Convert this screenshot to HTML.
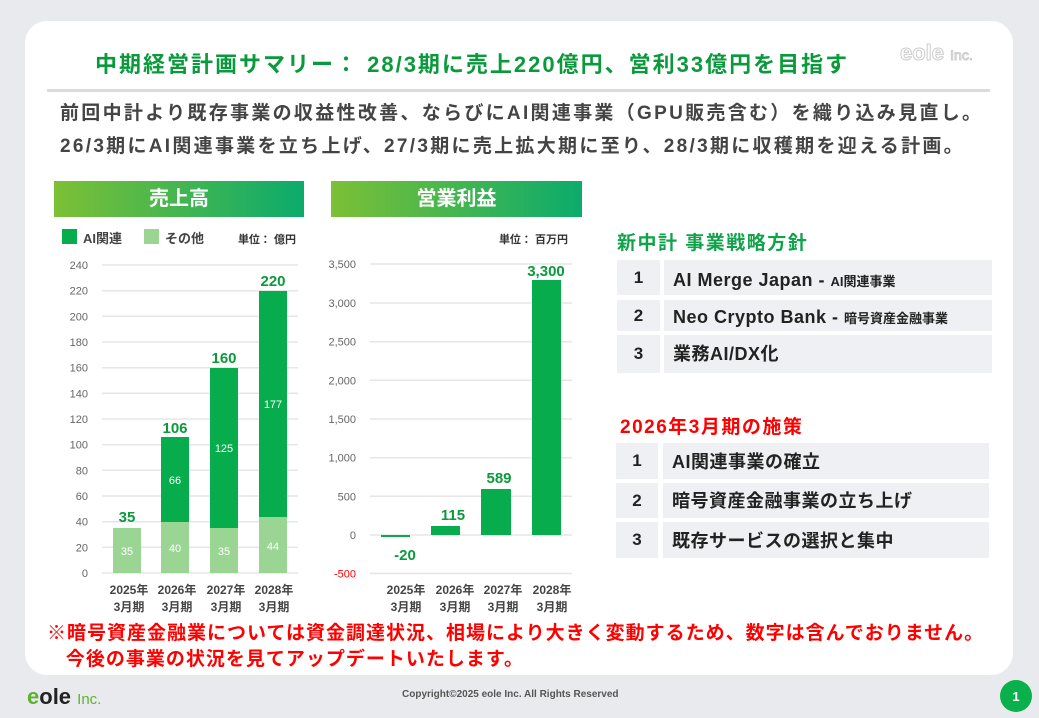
<!DOCTYPE html>
<html><head><meta charset="utf-8"><style>
*{margin:0;padding:0;box-sizing:border-box}
body{width:1039px;height:718px;overflow:hidden;background:#e8eaed;font-family:"Liberation Sans","Noto Sans CJK JP",sans-serif;position:relative}
.a{position:absolute;white-space:nowrap}
.card{position:absolute;left:25px;top:21px;width:988px;height:654px;background:#fff;border-radius:22px}
.ban{position:absolute;height:36px;background:linear-gradient(90deg,#7cc035,#0bab6c);color:#fff;font-weight:bold;font-size:20px;text-align:center;line-height:36px}
.box{position:absolute;background:#eff0f4;font-weight:bold;color:#222}
.num{text-align:center;font-size:17px}
.txt{padding-left:9px;font-size:18px;letter-spacing:0.5px}
</style></head><body>
<div class="card"></div>
<div class="a" style="left:95px;top:47px;font-size:22px;letter-spacing:2px;font-weight:bold;color:#0a9a3c">中期経営計画サマリー： 28/3期に売上220億円、営利33億円を目指す</div>
<div class="a" style="left:900px;top:40px;font-size:22px;color:#fff;-webkit-text-stroke:1px #ccc;font-weight:bold">eole <span style="font-size:14px;font-weight:normal">Inc.</span></div>
<div class="a" style="left:47px;top:89px;width:943px;height:3px;background:#d8dbe0"></div>
<div class="a" style="left:60px;top:97px;font-size:19px;letter-spacing:2.3px;font-weight:bold;color:#444;line-height:33px">前回中計より既存事業の収益性改善、ならびにAI関連事業（GPU販売含む）を織り込み見直し。<br>26/3期にAI関連事業を立ち上げ、27/3期に売上拡大期に至り、28/3期に収穫期を迎える計画。</div>

<div class="ban" style="left:54px;top:181px;width:250px">売上高</div>
<div class="ban" style="left:331px;top:181px;width:251px">営業利益</div>

<svg class="a" style="left:0;top:0" width="1039" height="718" font-family="Liberation Sans, Noto Sans CJK JP, sans-serif">
<rect x="62" y="229" width="15" height="15" fill="#07ad4c"/><text x="83" y="243" font-size="13" font-weight="bold" fill="#444">AI関連</text>
<rect x="144" y="229" width="15" height="15" fill="#9bd594"/><text x="165" y="243" font-size="13" font-weight="bold" fill="#444">その他</text>
<text x="296" y="243" font-size="11" font-weight="bold" fill="#333" text-anchor="end">単位： 億円</text>
<g stroke="#e6e6e6" stroke-width="1.5">
<line x1="102" x2="298" y1="265" y2="265"/><line x1="102" x2="298" y1="290.7" y2="290.7"/><line x1="102" x2="298" y1="316.3" y2="316.3"/><line x1="102" x2="298" y1="342" y2="342"/><line x1="102" x2="298" y1="367.7" y2="367.7"/><line x1="102" x2="298" y1="393.3" y2="393.3"/><line x1="102" x2="298" y1="419" y2="419"/><line x1="102" x2="298" y1="444.7" y2="444.7"/><line x1="102" x2="298" y1="470.3" y2="470.3"/><line x1="102" x2="298" y1="496" y2="496"/><line x1="102" x2="298" y1="521.7" y2="521.7"/><line x1="102" x2="298" y1="547.3" y2="547.3"/><line x1="102" x2="298" y1="573" y2="573"/>
</g>
<g font-size="11" fill="#666" text-anchor="end">
<text x="88" y="269">240</text><text x="88" y="294.7">220</text><text x="88" y="320.3">200</text><text x="88" y="346">180</text><text x="88" y="371.7">160</text><text x="88" y="397.3">140</text><text x="88" y="423">120</text><text x="88" y="448.7">100</text><text x="88" y="474.3">80</text><text x="88" y="500">60</text><text x="88" y="525.7">40</text><text x="88" y="551.3">20</text><text x="88" y="577">0</text>
</g>
<rect x="113" y="528" width="28" height="45" fill="#9bd594"/>
<rect x="161" y="522" width="28" height="51" fill="#9bd594"/><rect x="161" y="437" width="28" height="85" fill="#07ad4c"/>
<rect x="210" y="528" width="28" height="45" fill="#9bd594"/><rect x="210" y="368" width="28" height="160" fill="#07ad4c"/>
<rect x="259" y="517" width="28" height="56" fill="#9bd594"/><rect x="259" y="291" width="28" height="226" fill="#07ad4c"/>
<g font-size="11" fill="#fff" text-anchor="middle">
<text x="127" y="555">35</text><text x="175" y="552">40</text><text x="175" y="484">66</text><text x="224" y="555">35</text><text x="224" y="452">125</text><text x="273" y="550">44</text><text x="273" y="408">177</text>
</g>
<g font-size="15" font-weight="bold" fill="#0a9a3c" text-anchor="middle">
<text x="127" y="522">35</text><text x="175" y="433">106</text><text x="224" y="363">160</text><text x="273" y="286">220</text>
</g>
<g font-size="12" font-weight="bold" fill="#444" text-anchor="middle">
<text x="129" y="594">2025年</text><text x="129" y="611">3月期</text>
<text x="177" y="594">2026年</text><text x="177" y="611">3月期</text>
<text x="226" y="594">2027年</text><text x="226" y="611">3月期</text>
<text x="274" y="594">2028年</text><text x="274" y="611">3月期</text>
</g>

<text x="568" y="243" font-size="11" font-weight="bold" fill="#333" text-anchor="end">単位： 百万円</text>
<g stroke="#e6e6e6" stroke-width="1.5">
<line x1="370" x2="572" y1="264" y2="264"/><line x1="370" x2="572" y1="303" y2="303"/><line x1="370" x2="572" y1="341.7" y2="341.7"/><line x1="370" x2="572" y1="380.3" y2="380.3"/><line x1="370" x2="572" y1="419" y2="419"/><line x1="370" x2="572" y1="457.7" y2="457.7"/><line x1="370" x2="572" y1="496.3" y2="496.3"/><line x1="370" x2="572" y1="535" y2="535"/><line x1="370" x2="572" y1="573.5" y2="573.5"/>
</g>
<g font-size="11" fill="#666" text-anchor="end">
<text x="356" y="268">3,500</text><text x="356" y="307">3,000</text><text x="356" y="345.7">2,500</text><text x="356" y="384.3">2,000</text><text x="356" y="423">1,500</text><text x="356" y="461.7">1,000</text><text x="356" y="500.3">500</text><text x="356" y="539">0</text><text x="356" y="577.5" fill="#f00">-500</text>
</g>
<rect x="381" y="535" width="29" height="2" fill="#07ad4c"/>
<rect x="431" y="526" width="29" height="9" fill="#07ad4c"/>
<rect x="481" y="489" width="30" height="46" fill="#07ad4c"/>
<rect x="532" y="280" width="29" height="255" fill="#07ad4c"/>
<g font-size="15" font-weight="bold" fill="#0a9a3c" text-anchor="middle">
<text x="405" y="560">-20</text><text x="453" y="520">115</text><text x="499" y="483">589</text><text x="546" y="276">3,300</text>
</g>
<g font-size="12" font-weight="bold" fill="#444" text-anchor="middle">
<text x="406" y="594">2025年</text><text x="406" y="611">3月期</text>
<text x="455" y="594">2026年</text><text x="455" y="611">3月期</text>
<text x="503" y="594">2027年</text><text x="503" y="611">3月期</text>
<text x="552" y="594">2028年</text><text x="552" y="611">3月期</text>
</g>
<circle cx="1016" cy="696" r="16" fill="#09b04b"/>
<text x="1016" y="701" font-size="13" font-weight="bold" fill="#fff" text-anchor="middle">1</text>
</svg>

<div class="a" style="left:617px;top:228px;font-size:19px;letter-spacing:1.5px;font-weight:bold;color:#0fa44a">新中計 事業戦略方針</div>
<div class="box num" style="left:617px;top:260px;width:43px;height:35px;line-height:35px">1</div>
<div class="box txt" style="left:664px;top:260px;width:328px;height:35px;line-height:40px">AI Merge Japan - <span style="font-size:13px;letter-spacing:0">AI関連事業</span></div>
<div class="box num" style="left:617px;top:300px;width:43px;height:31px;line-height:31px">2</div>
<div class="box txt" style="left:664px;top:300px;width:328px;height:31px;line-height:35px">Neo Crypto Bank - <span style="font-size:13px;letter-spacing:0">暗号資産金融事業</span></div>
<div class="box num" style="left:617px;top:335px;width:43px;height:38px;line-height:38px">3</div>
<div class="box txt" style="left:664px;top:335px;width:328px;height:38px;line-height:38px">業務AI/DX化</div>

<div class="a" style="left:620px;top:412px;font-size:19px;letter-spacing:1.5px;font-weight:bold;color:#f00">2026年3月期の施策</div>
<div class="box num" style="left:616px;top:443px;width:42px;height:36px;line-height:36px">1</div>
<div class="box txt" style="left:663px;top:443px;width:326px;height:36px;line-height:38px">AI関連事業の確立</div>
<div class="box num" style="left:616px;top:483px;width:42px;height:35px;line-height:35px">2</div>
<div class="box txt" style="left:663px;top:483px;width:326px;height:35px;line-height:37px">暗号資産金融事業の立ち上げ</div>
<div class="box num" style="left:616px;top:522px;width:42px;height:36px;line-height:36px">3</div>
<div class="box txt" style="left:663px;top:522px;width:326px;height:36px;line-height:38px">既存サービスの選択と集中</div>

<div class="a" style="left:47px;top:621px;font-size:19px;letter-spacing:1px;font-weight:bold;color:#f00;line-height:26px">※暗号資産金融業については資金調達状況、相場により大きく変動するため、数字は含んでおりません。<br>&nbsp;&nbsp;&nbsp;今後の事業の状況を見てアップデートいたします。</div>

<div class="a" style="left:27px;top:684px;font-size:22px;font-weight:bold;color:#222"><span style="color:#5db22e">e</span>ole <span style="font-size:15px;font-weight:normal;color:#5db22e">Inc.</span></div>
<div class="a" style="left:402px;top:689px;font-size:10px;font-weight:bold;color:#555">Copyright©2025 eole Inc. All Rights Reserved</div>
</body></html>
